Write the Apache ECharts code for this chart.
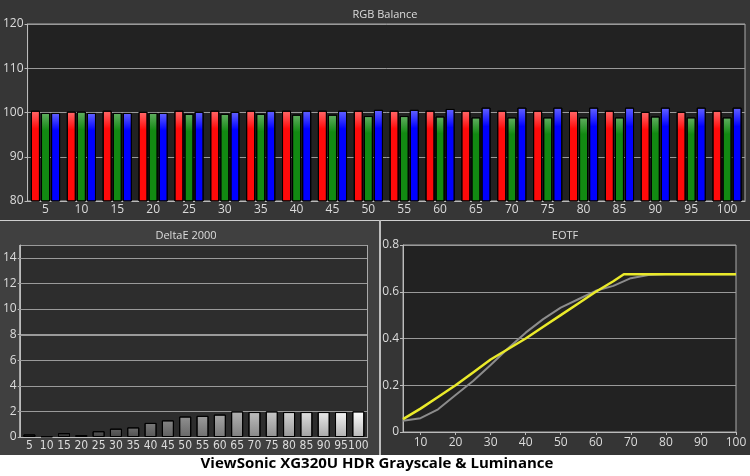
<!DOCTYPE html>
<html>
<head>
<meta charset="utf-8">
<script src="https://cdn.jsdelivr.net/npm/echarts@6/dist/echarts.min.js"></script>
<style>
html,body{margin:0;padding:0;background:#333;}
#wrap{position:relative;width:750px;height:476px;overflow:hidden;}
.bg{position:absolute;box-sizing:border-box;}
#c{position:absolute;left:0;top:0;width:750px;height:476px;}
</style>
</head>
<body>
<div id="wrap">
  <div class="bg" style="left:0;top:0;width:750px;height:220px;background:#363636"></div>
  <div class="bg" style="left:0;top:221px;width:379px;height:234px;background:#404040"></div>
  <div class="bg" style="left:381px;top:221px;width:369px;height:234px;background:#353535"></div>
  <div class="bg" style="left:0;top:220px;width:750px;height:1px;background:#cfcfcf"></div>
  <div class="bg" style="left:379px;top:220px;width:2px;height:235px;background:#bdbdbd"></div>
  <div class="bg" style="left:0;top:455px;width:750px;height:21px;background:#ffffff"></div>
  <div class="bg" style="left:19px;top:245px;width:349px;height:193px;background:#2d2d2d;border:1px solid #aaaaaa"></div>
  <div id="c"></div>
</div>
<script>
// ---- data ----
const stimulusLabels = ['5','10','15','20','25','30','35','40','45','50','55','60','65','70','75','80','85','90','95','100'];
const redValues   = [100.4,100.2,100.4,100.15,100.4,100.4,100.4,100.4,100.4,100.4,100.4,100.4,100.4,100.4,100.4,100.4,100.4,100.15,100.15,100.4];
const greenValues = [99.9,100.2,99.9,99.9,99.7,99.7,99.7,99.5,99.5,99.2,99.2,99.1,98.9,98.9,98.9,98.9,98.9,99.1,98.9,98.9];
const blueValues  = [99.9,99.9,99.9,99.9,100.15,100.15,100.4,100.4,100.4,100.6,100.6,100.8,101.1,101.1,101.1,101.1,101.1,101.1,101.1,101.1];
const deltaEValues = [0.2,0.05,0.3,0.15,0.45,0.65,0.75,1.1,1.3,1.6,1.65,1.75,2.0,1.95,2.0,1.95,1.95,1.95,1.95,2.0];
const eotfX = [5,10,15,20,25,30,35,40,45,50,55,60,65,68,70,75,80,85,90,95,100];
const eotfTarget = [0.055,0.10,0.15,0.20,0.255,0.31,0.355,0.40,0.45,0.50,0.55,0.60,0.645,0.675,0.675,0.675,0.675,0.675,0.675,0.675,0.675];
const eotfMeasuredX = [5,10,15,20,25,30,35,40,45,50,55,60,65,70,75,80,85,90,95,100];
const eotfMeasured = [0.048,0.059,0.097,0.158,0.218,0.287,0.358,0.425,0.483,0.532,0.568,0.604,0.625,0.658,0.672,0.675,0.675,0.675,0.675,0.675];
const deltaEGridValues = [2,4,6,8,10,12,14];
const eotfTickValues = [10,20,30,40,50,60,70,80,90,100];

// ---- chart ----
const chart = echarts.init(document.getElementById('c'), null, {renderer:'canvas'});
const labelColor = '#dcdcdc';
const fontFam = 'Open Sans, Noto Sans, sans-serif';
function grad(top, bottom, stop) {
  return new echarts.graphic.LinearGradient(0,0,0,1,[{offset:0,color:top},{offset:stop,color:bottom},{offset:1,color:bottom}]);
}
const deltaEData = deltaEValues.map((v,i) => {
  const lvl = Math.round(45 + 210 * i / 19);
  const lo = Math.round(lvl * 0.72);
  const c1 = 'rgb(' + lvl + ',' + lvl + ',' + lvl + ')';
  const c2 = 'rgb(' + lo + ',' + lo + ',' + lo + ')';
  return {value: v, itemStyle: {color: new echarts.graphic.LinearGradient(0,0,0,1,[{offset:0,color:c1},{offset:1,color:c2}])}};
});

const textGraphics = [
  {type:'text', x:385, y:9, style:{text:'RGB Balance', fill:labelColor, font:'11px ' + fontFam, textAlign:'center'}},
  {type:'text', x:186, y:230, style:{text:'DeltaE 2000', fill:labelColor, font:'11px ' + fontFam, textAlign:'center'}},
  {type:'text', x:565, y:230, style:{text:'EOTF', fill:labelColor, font:'11px ' + fontFam, textAlign:'center'}},
  {type:'text', x:377, y:456, style:{text:'ViewSonic XG320U HDR Grayscale & Luminance', fill:'#000', font:'bold 15px ' + fontFam, textAlign:'center'}}
];

const option = {
  backgroundColor: 'transparent',
  animation: false,
  graphic: textGraphics,
  grid: [
    {left:26, top:24, width:719, height:177, show:true, backgroundColor:'#222222', borderColor:'#aaaaaa', borderWidth:1},
    {left:19, top:245, width:348, height:192, show:false},
    {left:403, top:245, width:333, height:187, show:true, backgroundColor:'#222222', borderColor:'#aaaaaa', borderWidth:1}
  ],
  xAxis: [
    {gridIndex:0, type:'category', data:stimulusLabels,
     axisLine:{lineStyle:{color:'#bbbbbb'}}, axisTick:{length:3, lineStyle:{color:'#bbbbbb'}},
     axisLabel:{color:labelColor, fontSize:12, fontFamily:fontFam, margin:3, interval:0}},
    {gridIndex:1, type:'category', data:stimulusLabels,
     axisLine:{lineStyle:{color:'#bbbbbb'}}, axisTick:{length:3, lineStyle:{color:'#bbbbbb'}},
     axisLabel:{color:labelColor, fontSize:12, fontFamily:'"DejaVu Sans Condensed", Roboto, sans-serif', margin:3, interval:0}},
    {gridIndex:2, type:'value', min:5, max:100,
     axisLine:{lineStyle:{color:'#bbbbbb'}},
     axisTick:{length:3, lineStyle:{color:'#bbbbbb'}, customValues:eotfTickValues},
     axisLabel:{color:labelColor, fontSize:12, fontFamily:fontFam, margin:5, customValues:eotfTickValues},
     splitLine:{show:false}}
  ],
  yAxis: [
    {gridIndex:0, type:'value', min:80, max:120, interval:10,
     axisLine:{show:true, lineStyle:{color:'#bbbbbb'}}, axisTick:{show:true, length:3, lineStyle:{color:'#bbbbbb'}},
     axisLabel:{color:labelColor, fontSize:12, fontFamily:fontFam, margin:4},
     splitLine:{lineStyle:{color:'#9a9a9a', width:1}}},
    {gridIndex:1, type:'value', min:0, max:15, interval:2,
     axisLine:{show:true, lineStyle:{color:'#bbbbbb'}},
     axisTick:{show:true, length:3, lineStyle:{color:'#bbbbbb'}},
     axisLabel:{color:labelColor, fontSize:12, fontFamily:fontFam, margin:4, showMaxLabel:false},
     splitLine:{show:true, lineStyle:{color:'#9a9a9a', width:1}}},
    {gridIndex:2, type:'value', min:0, max:0.8, interval:0.2,
     axisLine:{show:true, lineStyle:{color:'#bbbbbb'}}, axisTick:{show:true, length:3, lineStyle:{color:'#bbbbbb'}},
     axisLabel:{color:labelColor, fontSize:12, fontFamily:fontFam, margin:4, formatter:v => v === 0 ? '0' : v.toFixed(1)},
     splitLine:{lineStyle:{color:'#9a9a9a', width:1}}}
  ],
  series: [
    {type:'bar', xAxisIndex:0, yAxisIndex:0, data:redValues, barWidth:9, barGap:'12%', clip:true,
     itemStyle:{color:grad('#ff6a6a','#ff0a0a',0.2), borderColor:'#000', borderWidth:1}},
    {type:'bar', xAxisIndex:0, yAxisIndex:0, data:greenValues, barWidth:9, barGap:'12%', clip:true,
     itemStyle:{color:grad('#62ae62','#128a12',0.2), borderColor:'#000', borderWidth:1}},
    {type:'bar', xAxisIndex:0, yAxisIndex:0, data:blueValues, barWidth:9, barGap:'12%', clip:true,
     itemStyle:{color:grad('#6464ff','#0000ff',0.2), borderColor:'#000', borderWidth:1}},
    {type:'bar', xAxisIndex:1, yAxisIndex:1, data:deltaEData, barWidth:12, z:5,
     itemStyle:{borderColor:'#000', borderWidth:1}},
    {type:'line', xAxisIndex:2, yAxisIndex:2, data:eotfMeasuredX.map((x,i)=>[x,eotfMeasured[i]]),
     symbol:'none', lineStyle:{color:'#8c8c8c', width:2}, z:2},
    {type:'line', xAxisIndex:2, yAxisIndex:2, data:eotfX.map((x,i)=>[x,eotfTarget[i]]),
     symbol:'none', lineStyle:{color:'#eaea2a', width:2.5}, z:3}
  ]
};
chart.setOption(option);

// DeltaE gridlines placed through the library's own y scale
try {
  const gridLines = deltaEGridValues.map(v => {
    const p0 = chart.convertToPixel({xAxisIndex:1, yAxisIndex:1}, [0, v]);
    const y = Math.round(p0[1]) + 0.5;
    return {type:'line', z:1, silent:true,
            shape:{x1:19, y1:y, x2:367, y2:y},
            style:{stroke:'#9a9a9a', lineWidth:1}};
  });
  chart.setOption({graphic: textGraphics.concat(gridLines)}, {replaceMerge:['graphic']});
} catch (e) {}
</script>
</body>
</html>
